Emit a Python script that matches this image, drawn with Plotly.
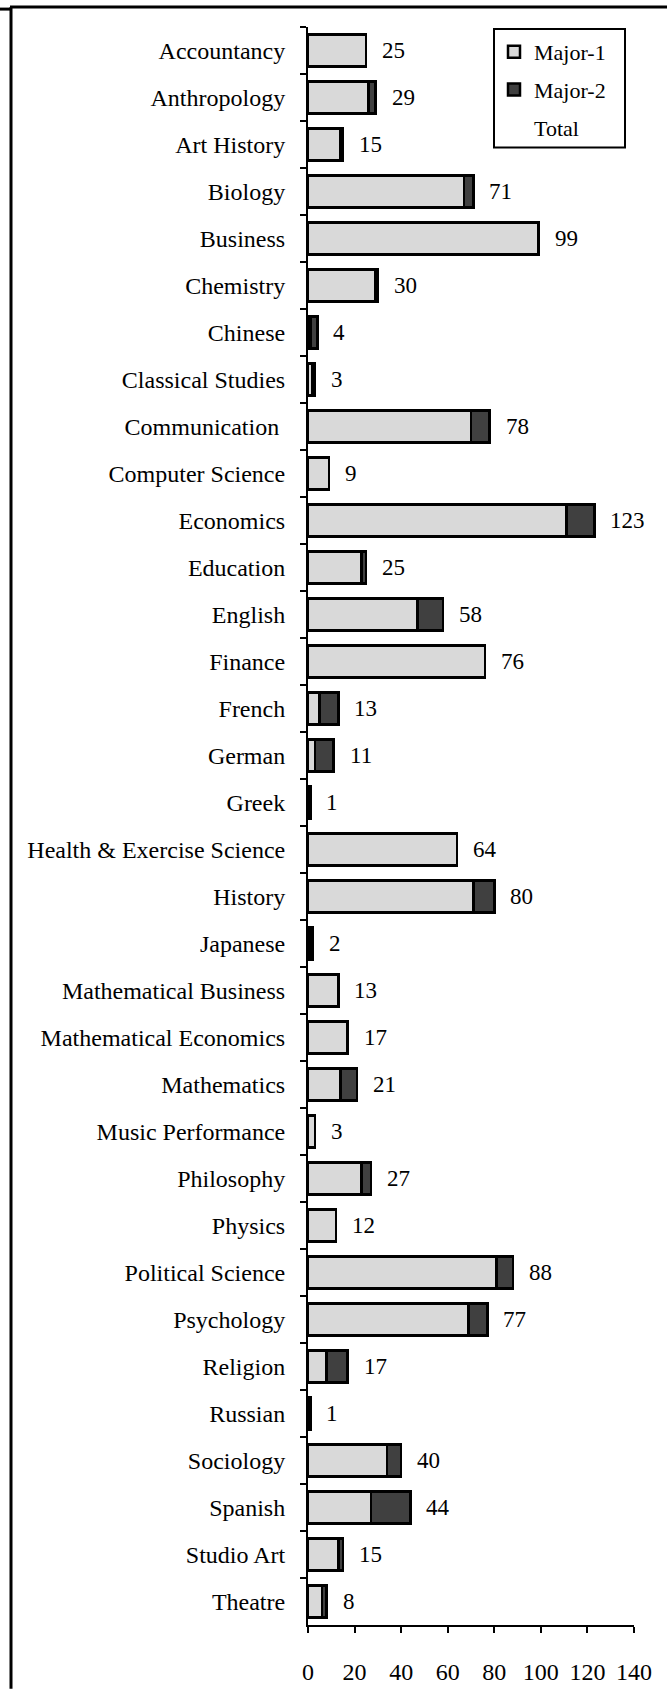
import plotly.graph_objects as go

# categories (top to bottom) and counts
majors = [
    "Accountancy", "Anthropology", "Art History", "Biology", "Business",
    "Chemistry", "Chinese", "Classical Studies", "Communication ",
    "Computer Science", "Economics", "Education", "English", "Finance",
    "French", "German", "Greek", "Health & Exercise Science", "History",
    "Japanese", "Mathematical Business", "Mathematical Economics",
    "Mathematics", "Music Performance", "Philosophy", "Physics",
    "Political Science", "Psychology", "Religion", "Russian", "Sociology",
    "Spanish", "Studio Art", "Theatre",
]
major_1 = [25, 26, 14, 67, 99, 29, 1, 2, 70, 9, 111, 23, 47, 76, 5, 3, 0, 64, 71,
           1, 13, 17, 14, 3, 23, 12, 81, 69, 8, 0, 34, 27, 13, 6]
major_2 = [0, 3, 1, 4, 0, 1, 3, 1, 8, 0, 12, 2, 11, 0, 8, 8, 1, 0, 9,
           1, 0, 0, 7, 0, 4, 0, 7, 8, 9, 1, 6, 17, 2, 2]
totals = [a + b for a, b in zip(major_1, major_2)]

FONT = "Liberation Serif"
W, H = 667, 1697
ML, MR, MT, MB = 308, 33, 27, 64
PW, PH = W - ML - MR, H - MT - MB


def px_x(x):
    return (x - ML) / PW


def px_y(y):
    return (H - MB - y) / PH


fig = go.Figure()

fig.add_trace(go.Bar(
    y=majors, x=major_1, orientation="h", name="Major-1",
    marker=dict(color="#d9d9d9", line=dict(color="black", width=2.5)),
    legendgroup="a",
))
fig.add_trace(go.Bar(
    y=majors, x=major_2, orientation="h", name="Major-2",
    marker=dict(color="#404040", line=dict(color="black", width=2.5)),
    legendgroup="b",
))
# legend-only entry for "Total"
fig.add_trace(go.Scatter(
    x=[None], y=[None], mode="markers", name="Total",
    marker=dict(color="rgba(0,0,0,0)", size=0), legendgroup="c",
))

for m, t in zip(majors, totals):
    fig.add_annotation(
        x=t, y=m, text=str(t), showarrow=False,
        xanchor="left", xshift=14,
        font=dict(family=FONT, size=23, color="black"),
    )

# outer frame (partially visible border of the original figure)
frame = dict(type="line", xref="paper", yref="paper",
             line=dict(color="black", width=3))
fig.add_shape(**frame, x0=px_x(10), x1=px_x(667), y0=px_y(7), y1=px_y(7))
fig.add_shape(**frame, x0=px_x(0), x1=px_x(10), y0=px_y(9), y1=px_y(9))
fig.add_shape(**frame, x0=px_x(11), x1=px_x(11), y0=px_y(7), y1=px_y(1697))

# legend box
fig.add_shape(type="rect", xref="paper", yref="paper",
              x0=px_x(494), x1=px_x(625), y0=px_y(29), y1=px_y(148),
              fillcolor="white", line=dict(color="black", width=2))

fig.update_layout(
    width=W, height=H,
    margin=dict(l=ML, r=MR, t=MT, b=MB),
    barmode="stack", bargap=0.32,
    plot_bgcolor="white", paper_bgcolor="white",
    font=dict(family=FONT, size=23, color="black"),
    showlegend=True,
    legend=dict(
        x=px_x(494), y=px_y(31), xanchor="left", yanchor="top",
        bgcolor="rgba(0,0,0,0)", borderwidth=0,
        font=dict(family=FONT, size=22, color="black"),
        traceorder="grouped", tracegroupgap=6,
    ),
    xaxis=dict(
        range=[0, 140], dtick=20, showgrid=False, zeroline=False,
        showline=True, linecolor="black", linewidth=2,
        ticks="outside", ticklen=6, tickwidth=2, tickcolor="black",
        ticklabelstandoff=18,
        tickfont=dict(family=FONT, size=24),
    ),
    yaxis=dict(
        autorange="reversed", showgrid=False, zeroline=False,
        showline=True, linecolor="black", linewidth=2,
        ticks="outside", ticklen=6, tickwidth=2, tickcolor="black",
        tickson="boundaries", ticklabelstandoff=16,
        tickfont=dict(family=FONT, size=24),
    ),
)

# page body has a default 8px margin; drop it so the figure fills the window
fig.write_html(
    "out.html",
    config={"displayModeBar": False},
    post_script="document.body.style.margin='0px';",
)
